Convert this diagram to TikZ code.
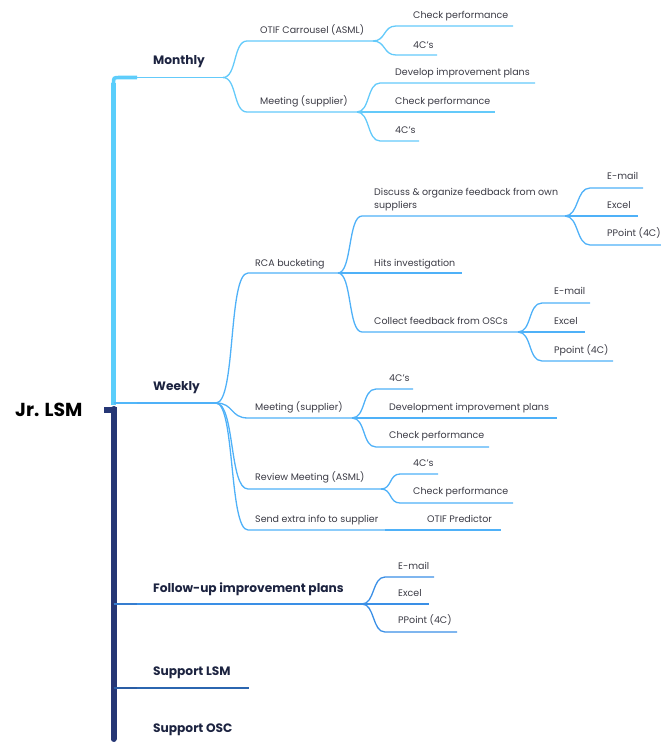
\documentclass[tikz,border=0pt]{standalone}
\usepackage{fontspec}
\setmainfont{Poppins}
\definecolor{navy}{HTML}{263775}
\definecolor{cyanbr}{HTML}{5ACEFB}
\definecolor{mcol}{HTML}{64CAFA}
\definecolor{wcol}{HTML}{4FB1F8}
\definecolor{fcol}{HTML}{3A8FE6}
\definecolor{scol}{HTML}{2B66B0}
\definecolor{hdc}{HTML}{1C2340}
\definecolor{lfc}{HTML}{3A3A44}
\newcommand\twig[5]{\draw[#1] (#2) .. controls +(#5,0) and +(-#5,0) .. (#3) .. controls (#4) .. (#4);}
\newcommand\stem[3]{\draw[#1] (#2) .. controls (#3) .. (#3);}
\begin{document}
\begin{tikzpicture}[x=1pt,y=-1pt,
  hd/.style={font=\bfseries\fontsize{12.2}{14}\selectfont, text=hdc, anchor=west, inner sep=0pt, text height=8.6pt, text depth=0pt},
  lf/.style={font=\fontsize{9.5}{13}\selectfont, text=lfc, anchor=west, inner sep=0pt, text height=6.8pt, text depth=0pt},
  lfm/.style={font=\fontsize{9.5}{13}\selectfont, text=lfc, anchor=north west, inner sep=0pt, align=left},
  rt/.style={font=\bfseries\fontsize{18.8}{21}\selectfont, text=black, anchor=west, inner sep=0pt, text height=13.2pt, text depth=0pt},
  ml/.style={mcol, line width=1.3pt},
  wl/.style={wcol, line width=1.3pt},
  fl/.style={fcol, line width=1.3pt},
  sl/.style={scol, line width=1.3pt}]
\useasboundingbox (0,0) rectangle (661,742);

% ---------- coordinates ----------
\coordinate (B0) at (113.5,77.5);
\coordinate (BW) at (113.5,403);
\coordinate (BF) at (113.5,604);
\coordinate (BS) at (113.5,688);
\coordinate (M) at (223,77.5);
\coordinate (m1) at (247,41);   \coordinate (m1e) at (373,41);
\coordinate (m11) at (396,26);  \coordinate (m11e) at (513,26);
\coordinate (m12) at (396,55);  \coordinate (m12e) at (437,55);
\coordinate (m2) at (247,112);  \coordinate (m2e) at (357,112);
\coordinate (m21) at (380,83);  \coordinate (m21e) at (535,83);
\coordinate (m22e) at (494,112);
\coordinate (m23) at (380,141); \coordinate (m23e) at (419,141);
\coordinate (W) at (216,403);
\coordinate (w1) at (248,273);  \coordinate (w1e) at (338,273);
\coordinate (w11) at (362,216); \coordinate (w11e) at (565,216);
\coordinate (w111) at (590,188); \coordinate (w111e) at (643,188);
\coordinate (w112e) at (638,216);
\coordinate (w113) at (590,245); \coordinate (w113e) at (661,245);
\coordinate (w12e) at (462,273);
\coordinate (w13) at (362,332); \coordinate (w13e) at (518,332);
\coordinate (w131) at (542,303); \coordinate (w131e) at (590,303);
\coordinate (w132e) at (585,332);
\coordinate (w133) at (542,361); \coordinate (w133e) at (613,361);
\coordinate (w2) at (248,418);  \coordinate (w2e) at (352,418);
\coordinate (w21) at (376,389); \coordinate (w21e) at (413,389);
\coordinate (w22e) at (556,418);
\coordinate (w23) at (376,447); \coordinate (w23e) at (489,447);
\coordinate (w3) at (248,489);  \coordinate (w3e) at (381,489);
\coordinate (w31) at (400,474); \coordinate (w31e) at (438,474);
\coordinate (w32) at (400,503); \coordinate (w32e) at (513,503);
\coordinate (w4) at (248,530);  \coordinate (w4e) at (385,530);
\coordinate (w41e) at (501,530);
\coordinate (F) at (362,604);
\coordinate (f1) at (385,577);  \coordinate (f1e) at (434,577);
\coordinate (f2e) at (429,604);
\coordinate (f3) at (385,632);  \coordinate (f3e) at (457,632);
\coordinate (S) at (248,688);

% ---------- bracket ----------
\draw[navy, line width=6pt, line cap=round] (113.5,409) -- (113.5,739);
\fill[navy] (104,407) rectangle (116.5,413);
\draw[cyanbr, line width=5pt] (113.5,405) -- (113.5,83);
\draw[cyanbr, line width=3.6pt] (113.5,84) .. controls (113.5,77.5) .. (120,77.5) -- (137,77.5);

% ---------- first level lines ----------
\stem{ml}{B0}{M}
\stem{wl}{BW}{W}
\draw[wcol!80!cyanbr, line width=2.2pt] (BW) -- (137,403);
\stem{fl}{BF}{F}
\draw[fcol!80!navy, line width=2pt] (BF) -- (137,604);
\stem{sl}{BS}{S}
\draw[scol!80!navy, line width=2pt] (BS) -- (137,688);

% ---------- Monthly ----------
\twig{ml}{M}{m1}{m1e}{14}
\twig{ml}{m1e}{m11}{m11e}{13}
\twig{ml}{m1e}{m12}{m12e}{13}
\twig{ml}{M}{m2}{m2e}{14}
\twig{ml}{m2e}{m21}{m21e}{13}
\stem{ml}{m2e}{m22e}
\twig{ml}{m2e}{m23}{m23e}{13}

% ---------- Weekly ----------
\twig{wl}{W}{w1}{w1e}{20}
\twig{wl}{w1e}{w11}{w11e}{14}
\twig{wl}{w11e}{w111}{w111e}{14}
\stem{wl}{w11e}{w112e}
\twig{wl}{w11e}{w113}{w113e}{14}
\stem{wl}{w1e}{w12e}
\twig{wl}{w1e}{w13}{w13e}{14}
\twig{wl}{w13e}{w131}{w131e}{14}
\stem{wl}{w13e}{w132e}
\twig{wl}{w13e}{w133}{w133e}{14}
\twig{wl}{W}{w2}{w2e}{18}
\twig{wl}{w2e}{w21}{w21e}{14}
\stem{wl}{w2e}{w22e}
\twig{wl}{w2e}{w23}{w23e}{14}
\twig{wl}{W}{w3}{w3e}{19}
\twig{wl}{w3e}{w31}{w31e}{11}
\twig{wl}{w3e}{w32}{w32e}{11}
\twig{wl}{W}{w4}{w4e}{19}
\stem{wl}{w4e}{w41e}

% ---------- Follow-up ----------
\twig{fl}{F}{f1}{f1e}{13}
\stem{fl}{F}{f2e}
\twig{fl}{F}{f3}{f3e}{13}

% ---------- texts ----------
\node[rt] (root) at (15,410) {Jr. LSM};
\node[hd] (mon) at (153,60) {Monthly};
\node[hd] (wk) at (153,386) {Weekly};
\node[hd] (fu) at (153,588) {Follow-up improvement plans};
\node[hd] (slsm) at (153,671) {Support LSM};
\node[hd] (sosc) at (153,728) {Support OSC};

\node[lf] (otif) at (260,30) {OTIF Carrousel (ASML)};
\node[lf] (otif1) at (413,15) {Check performance};
\node[lf] (otif2) at (413,45) {4C's};
\node[lf] (mms) at (260,101) {Meeting (supplier)};
\node[lf] (mms1) at (395,72) {Develop improvement plans};
\node[lf] (mms2) at (395,101) {Check performance};
\node[lf] (mms3) at (395,130) {4C's};

\node[lf] (rca) at (255,263) {RCA bucketing};
\node[lfm] (disc) at (374,188.4) {Discuss \& organize feedback from own\\suppliers};
\node[lf] (disc1) at (607,176) {E-mail};
\node[lf] (disc2) at (607,205) {Excel};
\node[lf] (disc3) at (607,233) {PPoint (4C)};
\node[lf] (hits) at (374,263) {Hits investigation};
\node[lf] (coll) at (374,321) {Collect feedback from OSCs};
\node[lf] (coll1) at (554,291) {E-mail};
\node[lf] (coll2) at (554,321) {Excel};
\node[lf] (coll3) at (554,350) {Ppoint (4C)};
\node[lf] (wms) at (255,407) {Meeting (supplier)};
\node[lf] (wms1) at (389,378) {4C's};
\node[lf] (wms2) at (389,407) {Development improvement plans};
\node[lf] (wms3) at (389,435) {Check performance};
\node[lf] (rev) at (255,477) {Review Meeting (ASML)};
\node[lf] (rev1) at (413,463) {4C's};
\node[lf] (rev2) at (413,491) {Check performance};
\node[lf] (send) at (255,519) {Send extra info to supplier};
\node[lf] (send1) at (427,519) {OTIF Predictor};

\node[lf] (fu1) at (398,566) {E-mail};
\node[lf] (fu2) at (398,593) {Excel};
\node[lf] (fu3) at (398,620) {PPoint (4C)};
\end{tikzpicture}
\end{document}
